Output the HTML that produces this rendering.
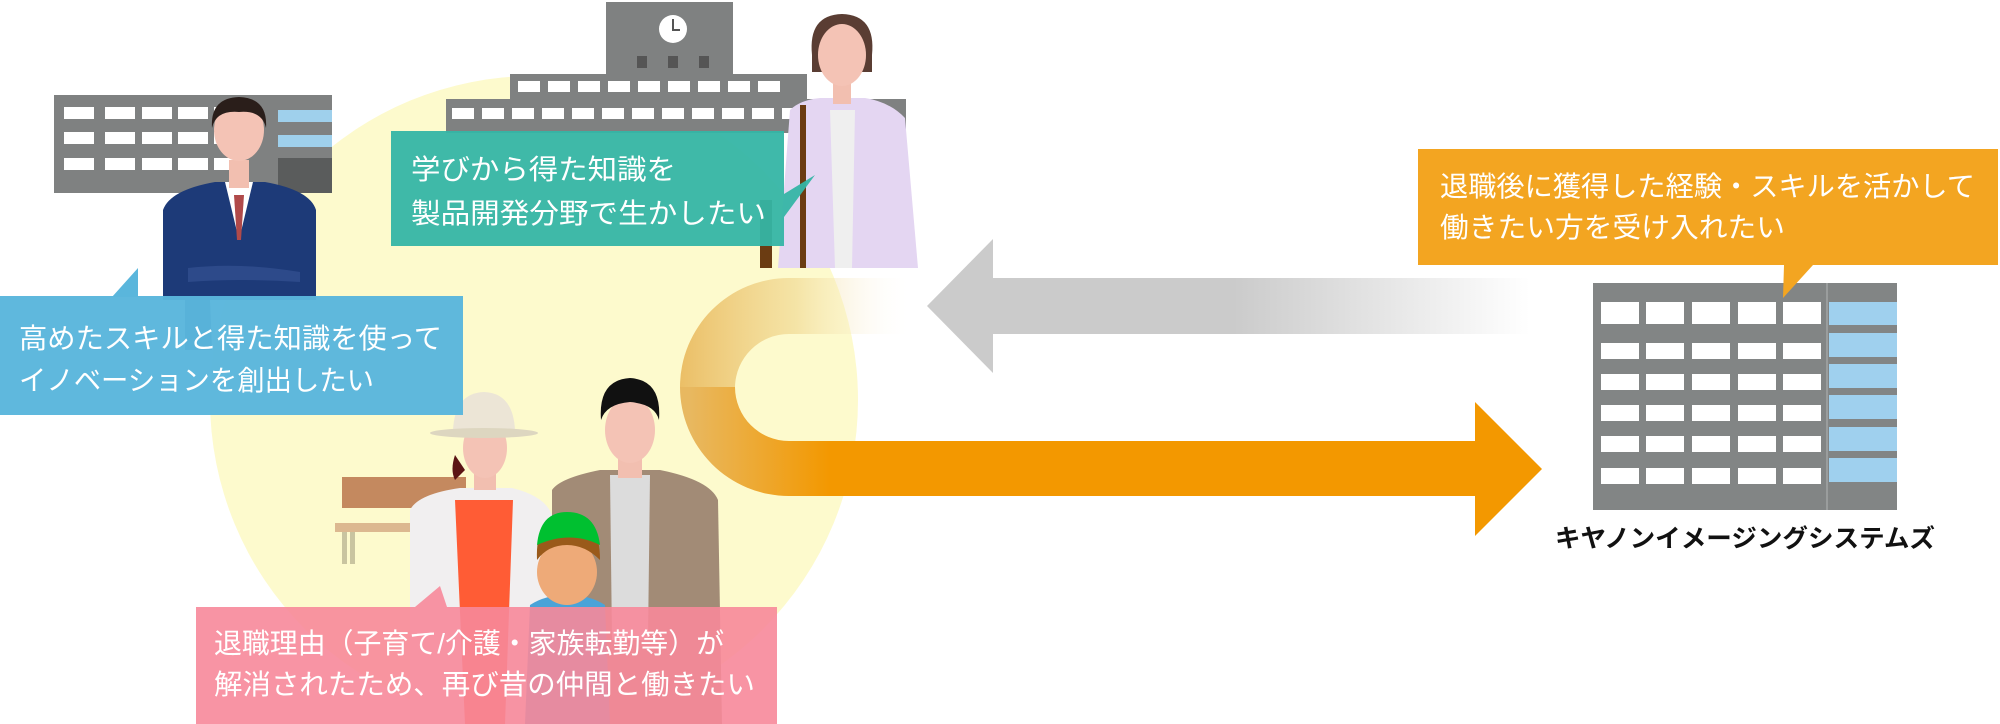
<!DOCTYPE html>
<html><head><meta charset="utf-8"><style>
html,body{margin:0;padding:0;background:#fff;}
svg{display:block;}
text{font-family:"Liberation Sans","Noto Sans CJK JP",sans-serif;}
</style></head><body>
<svg width="2000" height="724" viewBox="0 0 2000 724" xmlns="http://www.w3.org/2000/svg">
<defs>
<linearGradient id="gU" x1="680" y1="0" x2="913" y2="0" gradientUnits="userSpaceOnUse">
<stop offset="0" stop-color="#e8b454" stop-opacity="0.85"/>
<stop offset="0.5" stop-color="#efd58c" stop-opacity="0.6"/>
<stop offset="1" stop-color="#ffffff" stop-opacity="0"/>
</linearGradient>
<linearGradient id="gB" x1="690" y1="0" x2="830" y2="0" gradientUnits="userSpaceOnUse">
<stop offset="0" stop-color="#e8b860"/>
<stop offset="1" stop-color="#f39800"/>
</linearGradient>
<linearGradient id="gG" x1="991" y1="0" x2="1530" y2="0" gradientUnits="userSpaceOnUse">
<stop offset="0" stop-color="#cbcbcb"/>
<stop offset="0.45" stop-color="#cbcbcb"/>
<stop offset="1" stop-color="#ffffff"/>
</linearGradient>
</defs>
<circle cx="534" cy="400" r="324" fill="#fdfacd"/>

<!-- left office building -->
<rect x="54" y="95" width="278" height="98" fill="#7f8181"/>
<g fill="#fff">
<rect x="64" y="107" width="30" height="12"/><rect x="105" y="107" width="30" height="12"/><rect x="142" y="107" width="30" height="12"/><rect x="178" y="107" width="30" height="12"/><rect x="214" y="107" width="30" height="12"/>
<rect x="64" y="132" width="30" height="12"/><rect x="105" y="132" width="30" height="12"/><rect x="142" y="132" width="30" height="12"/><rect x="178" y="132" width="30" height="12"/><rect x="214" y="132" width="30" height="12"/>
<rect x="64" y="158" width="30" height="12"/><rect x="105" y="158" width="30" height="12"/><rect x="142" y="158" width="30" height="12"/><rect x="178" y="158" width="30" height="12"/><rect x="214" y="158" width="30" height="12"/>
</g>
<rect x="278" y="110" width="54" height="12" fill="#9fd0ec"/>
<rect x="278" y="135" width="54" height="12" fill="#9fd0ec"/>
<rect x="278" y="158" width="54" height="35" fill="#5a5c5c"/>
<!-- man in suit -->
<path d="M163 210 Q170 190 215 182 L265 182 Q310 190 316 210 L316 300 L163 300 Z" fill="#1d3a78"/>
<path d="M225 182 L239 240 L253 182 Z" fill="#fff"/>
<path d="M234 195 L244 195 L241 240 L237 240 Z" fill="#b04a4a"/>
<path d="M185 300 L210 300 L212 350 L185 350 Z" fill="#1d3a78"/>
<rect x="229" y="160" width="20" height="28" fill="#f2bfb0"/>
<ellipse cx="239" cy="130" rx="25" ry="31" fill="#f4c3b5"/>
<path d="M212 128 Q210 98 239 97 Q268 98 266 128 Q262 110 239 112 Q216 110 212 128 Z" fill="#2a1e1a"/>
<path d="M188 268 Q240 262 300 272 L300 282 Q240 278 188 282 Z" fill="#2d4a8a"/>

<!-- school building -->
<rect x="606" y="2" width="127" height="72" fill="#7f8181"/>
<circle cx="673" cy="29" r="14" fill="#fff"/>
<path d="M673 19 L673 30 L680 30" stroke="#555" stroke-width="2" fill="none"/>
<rect x="637" y="56" width="10" height="12" fill="#555"/><rect x="668" y="56" width="10" height="12" fill="#555"/><rect x="699" y="56" width="10" height="12" fill="#555"/>
<rect x="510" y="74" width="297" height="27" fill="#7f8181"/>
<rect x="446" y="99" width="460" height="34" fill="#7f8181"/>
<g fill="#fff">
<rect x="518" y="81" width="22" height="11"/><rect x="548" y="81" width="22" height="11"/><rect x="578" y="81" width="22" height="11"/><rect x="608" y="81" width="22" height="11"/><rect x="638" y="81" width="22" height="11"/><rect x="668" y="81" width="22" height="11"/><rect x="698" y="81" width="22" height="11"/><rect x="728" y="81" width="22" height="11"/><rect x="758" y="81" width="22" height="11"/>
<rect x="452" y="108" width="22" height="11"/><rect x="482" y="108" width="22" height="11"/><rect x="512" y="108" width="22" height="11"/><rect x="542" y="108" width="22" height="11"/><rect x="572" y="108" width="22" height="11"/><rect x="602" y="108" width="22" height="11"/><rect x="632" y="108" width="22" height="11"/><rect x="662" y="108" width="22" height="11"/><rect x="692" y="108" width="22" height="11"/><rect x="722" y="108" width="22" height="11"/><rect x="752" y="108" width="22" height="11"/><rect x="782" y="108" width="22" height="11"/>
</g>
<!-- woman -->
<path d="M790 110 Q800 100 820 98 L865 98 Q890 102 905 118 L918 268 L778 268 Z" fill="#e4d6f2"/>
<path d="M830 110 L855 110 L852 268 L835 268 Z" fill="#efefef"/>
<rect x="800" y="105" width="6" height="163" fill="#6b3c12"/>
<rect x="760" y="200" width="12" height="68" fill="#6b3c12"/>
<rect x="833" y="80" width="18" height="24" fill="#f2bfb0"/>
<path d="M812 55 Q808 15 842 14 Q876 15 872 55 L872 72 L812 72 Z" fill="#5a3d33"/>
<ellipse cx="842" cy="55" rx="24" ry="31" fill="#f4c3b5"/>

<!-- bench -->
<rect x="342" y="477" width="124" height="31" fill="#c4895f"/>
<rect x="335" y="523" width="120" height="9" fill="#dcb890"/>
<rect x="342" y="532" width="5" height="32" fill="#c9c4a0"/><rect x="350" y="532" width="5" height="32" fill="#c9c4a0"/>
<!-- family man -->
<path d="M552 490 Q560 478 600 470 L660 470 Q710 480 718 500 L722 724 L552 724 Z" fill="#a28b76"/>
<path d="M610 475 L650 475 L648 640 L612 640 Z" fill="#dcdcdc"/>
<rect x="618" y="448" width="24" height="30" fill="#f2bfb0"/>
<ellipse cx="630" cy="430" rx="25" ry="33" fill="#f4c3b5"/>
<path d="M601 420 Q598 380 630 378 Q662 380 659 420 Q655 404 630 402 Q606 404 601 420 Z" fill="#111"/>
<!-- family woman -->
<path d="M410 510 Q418 494 460 488 L512 488 Q545 496 552 515 L555 724 L410 724 Z" fill="#f1eff0"/>
<path d="M455 500 L513 500 L505 724 L465 724 Z" fill="#ff5c35"/>
<path d="M455 455 Q450 470 455 480 L465 470 Z" fill="#5b1414"/>
<rect x="474" y="460" width="22" height="30" fill="#f2bfb0"/>
<ellipse cx="485" cy="448" rx="22" ry="30" fill="#f4c3b5"/>
<path d="M453 430 Q455 393 484 392 Q513 393 515 430 Z" fill="#ece5d6"/>
<ellipse cx="484" cy="433" rx="54" ry="5" fill="#ddd6c0"/>
<!-- child -->
<path d="M530 605 Q545 595 567 595 Q590 595 605 605 L610 724 L525 724 Z" fill="#4aa3d8"/>
<ellipse cx="567" cy="572" rx="30" ry="33" fill="#eeaa78"/>
<path d="M537 560 Q535 515 567 513 Q600 515 600 560 Q585 545 567 545 Q548 545 537 560 Z" fill="#9a5a1a"/>
<path d="M537 545 Q540 512 567 512 Q596 512 600 545 Q570 530 537 545 Z" fill="#00c030"/>

<!-- U turn arrow -->
<path d="M913 278 L789 278 A109 109 0 0 0 680 387 L735 387 A54 54 0 0 1 789 334 L913 334 Z" fill="url(#gU)"/>
<path d="M680 387 A109 109 0 0 0 789 496 L830 496 L830 441 L789 441 A54 54 0 0 1 735 387 Z" fill="url(#gB)"/>
<rect x="829" y="441" width="650" height="55" fill="#f39800"/>
<polygon points="1475,402 1542,469 1475,536" fill="#f39800"/>

<!-- gray arrow -->
<rect x="991" y="278" width="540" height="56" fill="url(#gG)"/>
<polygon points="927,306 993,239 993,373" fill="#cbcbcb"/>

<!-- right building -->
<rect x="1593" y="283" width="304" height="227" fill="#828585"/>
<rect x="1826" y="283" width="2" height="227" fill="#9a9d9d"/>
<g fill="#fff">
<rect x="1601" y="302" width="38" height="22"/><rect x="1646" y="302" width="38" height="22"/><rect x="1692" y="302" width="38" height="22"/><rect x="1738" y="302" width="38" height="22"/><rect x="1783" y="302" width="38" height="22"/>
<rect x="1601" y="343" width="38" height="16"/><rect x="1646" y="343" width="38" height="16"/><rect x="1692" y="343" width="38" height="16"/><rect x="1738" y="343" width="38" height="16"/><rect x="1783" y="343" width="38" height="16"/>
<rect x="1601" y="374" width="38" height="16"/><rect x="1646" y="374" width="38" height="16"/><rect x="1692" y="374" width="38" height="16"/><rect x="1738" y="374" width="38" height="16"/><rect x="1783" y="374" width="38" height="16"/>
<rect x="1601" y="405" width="38" height="16"/><rect x="1646" y="405" width="38" height="16"/><rect x="1692" y="405" width="38" height="16"/><rect x="1738" y="405" width="38" height="16"/><rect x="1783" y="405" width="38" height="16"/>
<rect x="1601" y="436" width="38" height="16"/><rect x="1646" y="436" width="38" height="16"/><rect x="1692" y="436" width="38" height="16"/><rect x="1738" y="436" width="38" height="16"/><rect x="1783" y="436" width="38" height="16"/>
<rect x="1601" y="468" width="38" height="16"/><rect x="1646" y="468" width="38" height="16"/><rect x="1692" y="468" width="38" height="16"/><rect x="1738" y="468" width="38" height="16"/><rect x="1783" y="468" width="38" height="16"/>
</g>
<g fill="#9fd0ee">
<rect x="1829" y="302" width="68" height="23"/><rect x="1829" y="333" width="68" height="24"/><rect x="1829" y="364" width="68" height="24"/><rect x="1829" y="395" width="68" height="24"/><rect x="1829" y="427" width="68" height="24"/><rect x="1829" y="458" width="68" height="24"/>
</g>
<text x="1555" y="547" font-size="25" font-weight="bold" fill="#111" textLength="380" lengthAdjust="spacingAndGlyphs">キヤノンイメージングシステムズ</text>

<!-- blue box -->
<polygon points="112,297 138,268 138,297" fill="#5ab6dc"/>
<rect x="0" y="296" width="463" height="119" fill="#5ab6dc" opacity="0.97"/>
<text x="19" y="348" font-size="28" fill="#fff" textLength="423" lengthAdjust="spacingAndGlyphs">高めたスキルと得た知識を使って</text>
<text x="19" y="390" font-size="28" fill="#fff" textLength="355" lengthAdjust="spacingAndGlyphs">イノベーションを創出したい</text>

<!-- teal box -->
<polygon points="784,194 815,175 784,217" fill="#35b5a5" opacity="0.95"/>
<rect x="391" y="131" width="393" height="115" fill="#35b5a5" opacity="0.95"/>
<text x="411" y="179" font-size="28" fill="#fff" textLength="265" lengthAdjust="spacingAndGlyphs">学びから得た知識を</text>
<text x="411" y="223" font-size="28" fill="#fff" textLength="355" lengthAdjust="spacingAndGlyphs">製品開発分野で生かしたい</text>

<!-- pink box -->
<polygon points="415,607 440,586 447,607" fill="#f7889a" opacity="0.9"/>
<rect x="196" y="607" width="581" height="117" fill="#f7889a" opacity="0.9"/>
<text x="214" y="653" font-size="28" fill="#fff" textLength="510" lengthAdjust="spacingAndGlyphs">退職理由（子育て/介護・家族転勤等）が</text>
<text x="214" y="694" font-size="28" fill="#fff" textLength="541" lengthAdjust="spacingAndGlyphs">解消されたため、再び昔の仲間と働きたい</text>

<!-- orange box -->
<polygon points="1784,265 1813,265 1783,298" fill="#f3a521"/>
<rect x="1418" y="149" width="580" height="116" fill="#f3a521"/>
<text x="1440" y="196" font-size="28" fill="#fff" textLength="535" lengthAdjust="spacingAndGlyphs">退職後に獲得した経験・スキルを活かして</text>
<text x="1440" y="237" font-size="28" fill="#fff" textLength="345" lengthAdjust="spacingAndGlyphs">働きたい方を受け入れたい</text>
</svg>
</body></html>
